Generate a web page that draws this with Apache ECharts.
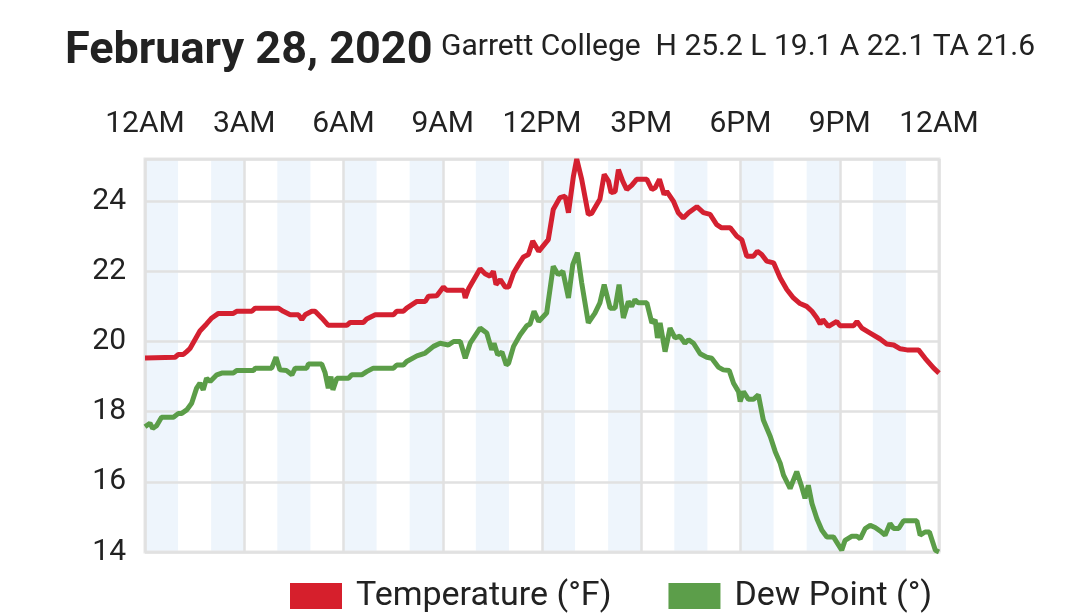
<!DOCTYPE html>
<html>
<head>
<meta charset="utf-8">
<script src="https://cdn.jsdelivr.net/npm/echarts@6/dist/echarts.min.js"></script>
<style>
html,body{margin:0;padding:0;background:#fff;}
#chart{width:1080px;height:613px;}
</style>
</head>
<body>
<div id="chart"></div>
<script>
const titleText = 'February 28, 2020';
const subTitleText = 'Garrett College  H 25.2 L 19.1 A 22.1 TA 21.6';
const seriesNames = ['Temperature (°F)', 'Dew Point (°)'];
const tickLabels = ['12AM','3AM','6AM','9AM','12PM','3PM','6PM','9PM','12AM'];

const tempHours = [0,0.91,1.01,1.16,1.26,1.36,1.66,1.86,2.02,2.22,2.67,2.77,3.23,3.33,4.03,4.18,4.39,4.64,4.74,4.84,5.04,5.14,5.34,5.54,6.1,6.2,6.6,6.7,6.96,7.51,7.61,7.81,7.91,8.22,8.47,8.57,8.82,9.02,9.12,9.63,9.68,9.78,10.13,10.28,10.43,10.53,10.61,10.74,10.89,10.99,11.14,11.29,11.44,11.59,11.72,11.9,12.19,12.34,12.54,12.7,12.8,12.95,13.05,13.2,13.4,13.5,13.75,13.88,14.01,14.09,14.21,14.31,14.44,14.56,14.71,14.86,15.17,15.32,15.42,15.55,15.69,15.77,15.97,16.12,16.27,16.43,16.68,16.88,17.08,17.28,17.43,17.69,17.89,18.04,18.19,18.39,18.51,18.64,18.79,19.0,19.2,19.4,19.6,19.8,20.0,20.16,20.31,20.41,20.49,20.66,20.91,21.01,21.42,21.52,21.67,21.92,22.22,22.42,22.63,22.83,23.03,23.38,23.58,23.84,24];
const tempValues = [19.53,19.55,19.63,19.63,19.71,19.8,20.3,20.5,20.67,20.8,20.8,20.86,20.86,20.95,20.95,20.86,20.76,20.76,20.62,20.76,20.86,20.86,20.67,20.46,20.46,20.54,20.54,20.64,20.76,20.76,20.86,20.86,20.95,21.14,21.14,21.29,21.3,21.55,21.46,21.46,21.24,21.5,22.07,21.93,21.86,22.0,21.62,21.76,21.55,21.55,21.95,22.19,22.41,22.48,22.86,22.57,22.9,23.76,24.1,24.14,23.67,24.71,25.2,24.62,23.62,23.65,24.05,24.76,24.57,24.24,24.27,24.9,24.57,24.33,24.45,24.62,24.62,24.33,24.38,24.62,24.19,24.28,24.0,23.67,23.52,23.67,23.84,23.67,23.62,23.33,23.24,23.24,23.0,22.9,22.43,22.43,22.57,22.48,22.29,22.24,21.81,21.48,21.24,21.08,21.0,20.86,20.67,20.5,20.62,20.43,20.57,20.45,20.45,20.57,20.38,20.24,20.07,19.93,19.9,19.79,19.76,19.76,19.52,19.24,19.1];

const dewHours = [0,0.15,0.23,0.35,0.5,0.86,1.01,1.11,1.26,1.41,1.56,1.66,1.76,1.86,1.97,2.17,2.32,2.67,2.77,3.28,3.33,3.83,3.96,4.08,4.28,4.44,4.54,4.89,4.94,5.34,5.44,5.54,5.62,5.68,5.8,6.15,6.25,6.55,6.7,6.9,7.51,7.61,7.81,7.91,8.22,8.47,8.72,8.92,9.17,9.33,9.53,9.68,9.83,10.13,10.33,10.48,10.55,10.66,10.79,10.92,10.99,11.14,11.34,11.54,11.64,11.76,11.9,12.14,12.34,12.49,12.63,12.8,12.93,13.07,13.2,13.4,13.6,13.75,13.88,14.06,14.21,14.33,14.46,14.61,14.71,14.81,14.91,15.17,15.32,15.42,15.49,15.57,15.72,15.87,16.02,16.17,16.32,16.43,16.58,16.78,16.98,17.13,17.33,17.48,17.66,17.79,17.94,17.99,18.09,18.24,18.39,18.54,18.69,18.9,19.05,19.2,19.3,19.5,19.7,19.85,19.95,20.05,20.16,20.31,20.46,20.61,20.81,21.06,21.16,21.37,21.52,21.62,21.77,21.92,22.07,22.22,22.37,22.52,22.63,22.78,22.93,23.33,23.43,23.58,23.71,23.89,24];
const dewValues = [17.57,17.67,17.52,17.6,17.84,17.84,17.95,17.95,18.05,18.24,18.67,18.81,18.62,18.95,18.86,19.05,19.1,19.1,19.17,19.17,19.24,19.24,19.55,19.19,19.17,19.05,19.24,19.24,19.36,19.36,19.12,18.67,19.0,18.62,18.95,18.95,19.05,19.05,19.14,19.24,19.24,19.33,19.33,19.43,19.59,19.67,19.86,19.95,19.9,20.0,20.0,19.52,19.95,20.38,20.24,19.76,19.95,19.62,19.7,19.33,19.38,19.86,20.19,20.45,20.5,20.86,20.57,20.81,22.14,21.9,22.0,21.24,22.19,22.53,21.67,20.53,20.81,21.1,21.62,20.95,20.95,21.62,20.67,21.14,21.0,21.19,21.1,21.1,20.53,20.62,20.1,20.53,19.71,20.38,20.1,20.15,19.95,20.05,19.95,19.65,19.55,19.52,19.27,19.19,19.17,18.81,18.57,18.29,18.57,18.35,18.35,18.48,17.76,17.29,16.86,16.53,16.19,15.81,16.29,15.86,15.53,15.9,15.38,14.95,14.62,14.43,14.43,14.05,14.33,14.45,14.45,14.38,14.67,14.76,14.7,14.6,14.48,14.81,14.67,14.67,14.89,14.89,14.48,14.57,14.57,14.05,14.0];

const pair = (xs, ys) => xs.map((x, i) => [x, ys[i]]);

const FONT = 'Roboto';
const chart = echarts.init(document.getElementById('chart'), null, {renderer: 'canvas'});
chart.setOption({
  animation: false,
  backgroundColor: '#ffffff',
  textStyle: {fontFamily: FONT},
  title: [
    {text: titleText, left: 60, top: 24, textStyle: {fontFamily: FONT, fontSize: 45, fontWeight: 'bold', color: '#222222'}},
    {text: subTitleText, left: 436, top: 27, textStyle: {fontFamily: FONT, fontSize: 30, fontWeight: 'normal', color: '#222222'}}
  ],
  legend: {
    left: 285, top: 574,
    itemWidth: 52, itemHeight: 26, itemGap: 57,
    icon: 'rect',
    textStyle: {fontFamily: FONT, fontSize: 34, color: '#222222', padding: [0, 0, 0, 9]},
    data: seriesNames
  },
  grid: {left: 145, right: 141, top: 159, bottom: 61, show: true, borderColor: '#e6e6e6', borderWidth: 3, containLabel: false, z: 4},
  xAxis: [
    {
      type: 'value', min: 0, max: 24, interval: 3, position: 'top', z: 4,
      axisLine: {show: false}, axisTick: {show: false},
      axisLabel: {margin: 20, fontFamily: FONT, fontSize: 30, color: '#222222',
        formatter: (v) => tickLabels[Math.round(v / 3)]},
      splitLine: {show: true, lineStyle: {color: '#e1e1e1', width: 2.5}}
    },
    {
      type: 'value', min: 0, max: 24, interval: 1, position: 'bottom', z: 0,
      axisLine: {show: false}, axisTick: {show: false}, axisLabel: {show: false},
      splitLine: {show: false},
      splitArea: {show: true, areaStyle: {color: ['#eef5fc', 'rgba(255,255,255,0)']}}
    }
  ],
  yAxis: {
    type: 'value', min: 14, max: 25.2, interval: 2, z: 4,
    axisLine: {show: false}, axisTick: {show: false},
    axisLabel: {margin: 19, fontFamily: FONT, fontSize: 30, color: '#222222', showMaxLabel: false},
    splitLine: {show: true, lineStyle: {color: '#e1e1e1', width: 2.5}}
  },
  series: [
    {name: seriesNames[0], type: 'line', xAxisIndex: 0, data: pair(tempHours, tempValues),
      showSymbol: false, symbol: 'none', lineStyle: {color: '#d42030', width: 5}, itemStyle: {color: '#d61f2c'}, z: 6},
    {name: seriesNames[1], type: 'line', xAxisIndex: 0, data: pair(dewHours, dewValues),
      showSymbol: false, symbol: 'none', lineStyle: {color: '#5b9d48', width: 5}, itemStyle: {color: '#5c9e4a'}, z: 6}
  ]
});
</script>
</body>
</html>
